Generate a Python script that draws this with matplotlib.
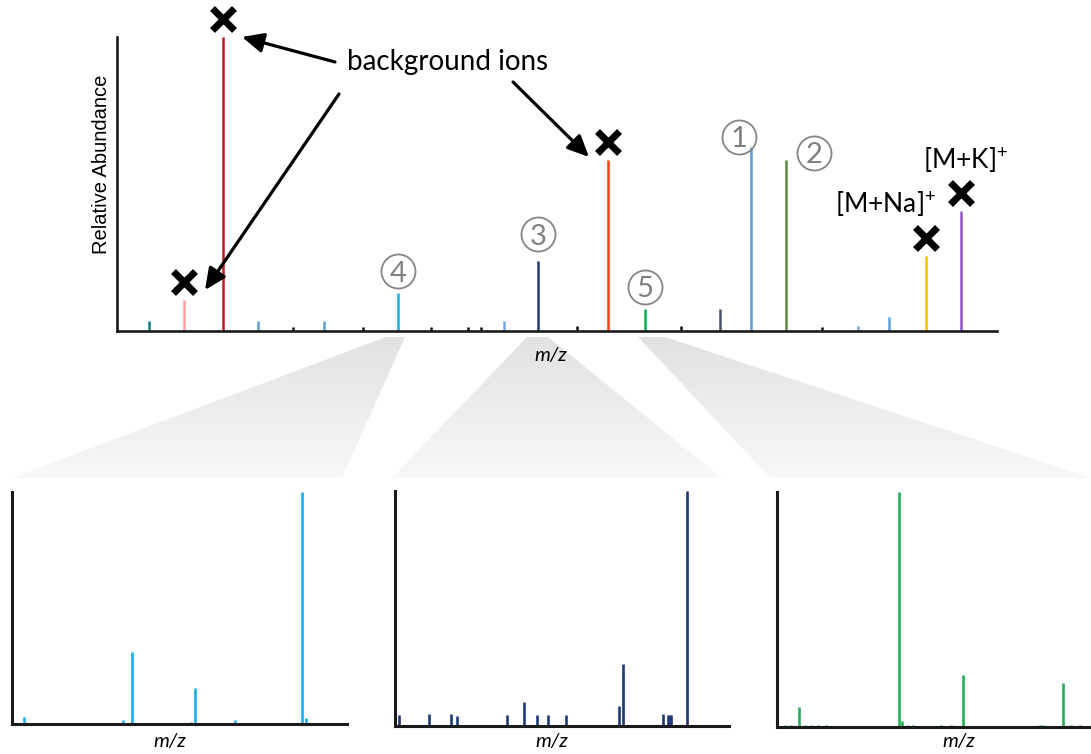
import matplotlib
matplotlib.use('Agg')
import matplotlib.pyplot as plt
import numpy as np
from matplotlib.patches import Polygon
from matplotlib.colors import LinearSegmentedColormap
from matplotlib.transforms import offset_copy

plt.rcParams['font.family'] = ['Lato', 'DejaVu Sans']
plt.rcParams['mathtext.fontset'] = 'custom'
plt.rcParams['mathtext.rm'] = 'Lato'

W, H = 1091, 754

# full spectrum: m/z (arbitrary units) and relative abundance (%)
main_mz = [32, 67, 106, 141, 176, 207, 246, 281, 314, 351, 364, 387, 421,
           460, 491, 528, 564, 603, 634, 669, 705, 741, 772, 809, 844]
main_int = [3.4, 10.5, 100, 3.4, 1.3, 3.4, 1.3, 12.9, 1.3, 1.3, 1.3, 3.4, 23.8,
            1.8, 58.2, 7.5, 1.8, 7.5, 62.6, 58.2, 1.3, 1.8, 4.8, 25.5, 40.8]
main_colors = ['#0f7f7a', '#f6a3a3', '#c8161d', '#5b9bd5', '#111111', '#5b9bd5',
               '#111111', '#19aee8', '#111111', '#111111', '#111111', '#6fa8dc',
               '#1f3a78', '#111111', '#ff3d17', '#00b050', '#111111', '#44546a',
               '#5b9bd5', '#5a8a3a', '#111111', '#6fa8dc', '#5b9bd5', '#ffc000',
               '#8e55c7']
background_ions = [2, 1, 14, 23, 24]

# numbered peaks: index into main arrays, label, offset of circle (px)
numbered = [(18, '1', -12, 10), (19, '2', 28, 7), (12, '3', 0, 27),
            (7, '4', 0, 22), (15, '5', 0, 22)]

# zoomed spectra
p1_mz = [12, 71, 111, 120, 179, 183, 223, 290, 294]
p1_int = [3.2, 0.6, 1.7, 30.9, 0.8, 15.6, 1.7, 100, 2.6]
p2_mz = [4, 34, 56, 62, 112, 129, 142, 153, 171, 224, 228, 268, 273, 275, 276, 292]
p2_int = [4.5, 4.8, 5.1, 4.3, 4.5, 9.9, 4.5, 4.7, 4.7, 8.4, 26.1, 5.1, 4.5, 4.5, 4.5, 100]
p3_mz = [8, 14, 22, 28, 34, 41, 49, 122, 125, 131, 136, 164, 174, 186, 263, 266, 286, 294, 303]
p3_int = [0.6, 0.6, 8.5, 0.6, 0.6, 0.6, 0.6, 100, 2.6, 0.6, 0.6, 0.6, 0.6, 21.8, 0.6, 0.6, 18.4, 0.6, 0.6]

fig = plt.figure(figsize=(W / 100, H / 100), dpi=100)

# background layer in pixel coordinates (zoom wedges)
bg = fig.add_axes([0, 0, 1, 1], zorder=0)
bg.axis('off')
wedges = [[(386, 337), (405, 337), (342, 478), (12, 478)],
          [(527, 337), (548, 337), (722, 478), (392, 478)],
          [(638, 337), (665, 337), (1091, 478), (770, 478)]]
cmap = LinearSegmentedColormap.from_list('fade', ['#e2e2e2', '#f8f8f8'])
grad = np.linspace(0, 1, 256).reshape(-1, 1)
for w in wedges:
    poly = Polygon(w, closed=True, facecolor='none', edgecolor='none')
    bg.add_patch(poly)
    im = bg.imshow(grad, cmap=cmap, extent=(0, W, 478, 337), aspect='auto',
                   origin='upper', interpolation='bilinear')
    im.set_clip_path(poly)
bg.set_xlim(0, W)
bg.set_ylim(H, 0)


def style_axes(ax, lw):
    ax.set_facecolor('none')
    for s in ['top', 'right']:
        ax.spines[s].set_visible(False)
    for s in ['left', 'bottom']:
        ax.spines[s].set_linewidth(lw)
        ax.spines[s].set_color('#1a1a1a')
    ax.set_xticks([])
    ax.set_yticks([])
    ax.set_ylim(0, 100)


# main spectrum
ax = fig.add_axes([117 / W, 1 - 331 / H, 880 / W, 294 / H], zorder=1)
style_axes(ax, 1.9)
ax.set_xlim(0, 880)
ax.vlines(main_mz, 0, main_int, colors=main_colors, linewidth=1.8)
ax.set_xlabel('m/z', style='italic', fontsize=14.5, va='center')
ax.xaxis.set_label_coords(0.493, -0.082)
ax.set_ylabel('Relative Abundance', family='Liberation Sans', fontsize=14.5)
ax.yaxis.set_label_coords(-0.007, 0.568)

for i in background_ions:
    ax.plot(main_mz[i], main_int[i] + 6, marker='x', markersize=16,
            markeredgewidth=5, color='black', clip_on=False)

for i, lab, dx, dy in numbered:
    tr = offset_copy(ax.transData, fig=fig, x=dx, y=dy, units='dots')
    ax.plot(main_mz[i], main_int[i], marker='o', markersize=24.5,
            markerfacecolor='none', markeredgecolor='#858585',
            markeredgewidth=1.3, transform=tr, clip_on=False)
    ax.text(main_mz[i], main_int[i], lab, transform=tr, ha='center',
            va='center_baseline', fontsize=21, color='#808080')

# zoomed panels
panels = [
    ([12.3 / W, 1 - 724 / H, 334.7 / W, 232.3 / H], p1_mz, p1_int, '#1aaeea', 335, (0.471, -0.077)),
    ([395 / W, 1 - 725.7 / H, 334 / W, 235 / H], p2_mz, p2_int, '#1f3a78', 334, (0.469, -0.069)),
    ([777.3 / W, 1 - 726.7 / H, 313.7 / W, 235 / H], p3_mz, p3_int, '#22b35a', 314, (0.579, -0.065)),
]
for pos, mz, inten, col, xmax, lc in panels:
    pa = fig.add_axes(pos, zorder=1)
    style_axes(pa, 2.2)
    pa.set_xlim(0, xmax)
    pa.vlines(mz, 0, inten, colors=col, linewidth=1.9)
    pa.set_xlabel('m/z', style='italic', fontsize=14.5, va='center')
    pa.xaxis.set_label_coords(*lc)

# foreground annotations in pixel coordinates
fg = fig.add_axes([0, 0, 1, 1], zorder=3)
fg.set_facecolor('none')
fg.set_xlim(0, W)
fg.set_ylim(H, 0)
fg.axis('off')
fg.text(347, 62, 'background ions', ha='left', va='center', fontsize=20)
arrows = [((335, 62), (242, 37)), ((339, 94), (205, 290)), ((513, 82), (589, 157))]
for tail, head in arrows:
    fg.annotate('', xy=head, xytext=tail,
                arrowprops=dict(arrowstyle='-|>,head_length=0.65,head_width=0.3',
                                lw=2.3, color='black', shrinkA=0, shrinkB=0,
                                mutation_scale=20))
fg.text(886, 204, '[M+Na]$^{+}$', ha='center', va='center', fontsize=19)
fg.text(966, 160, '[M+K]$^{+}$', ha='center', va='center', fontsize=19)

fig.savefig('out.png', dpi=100, facecolor='white')
